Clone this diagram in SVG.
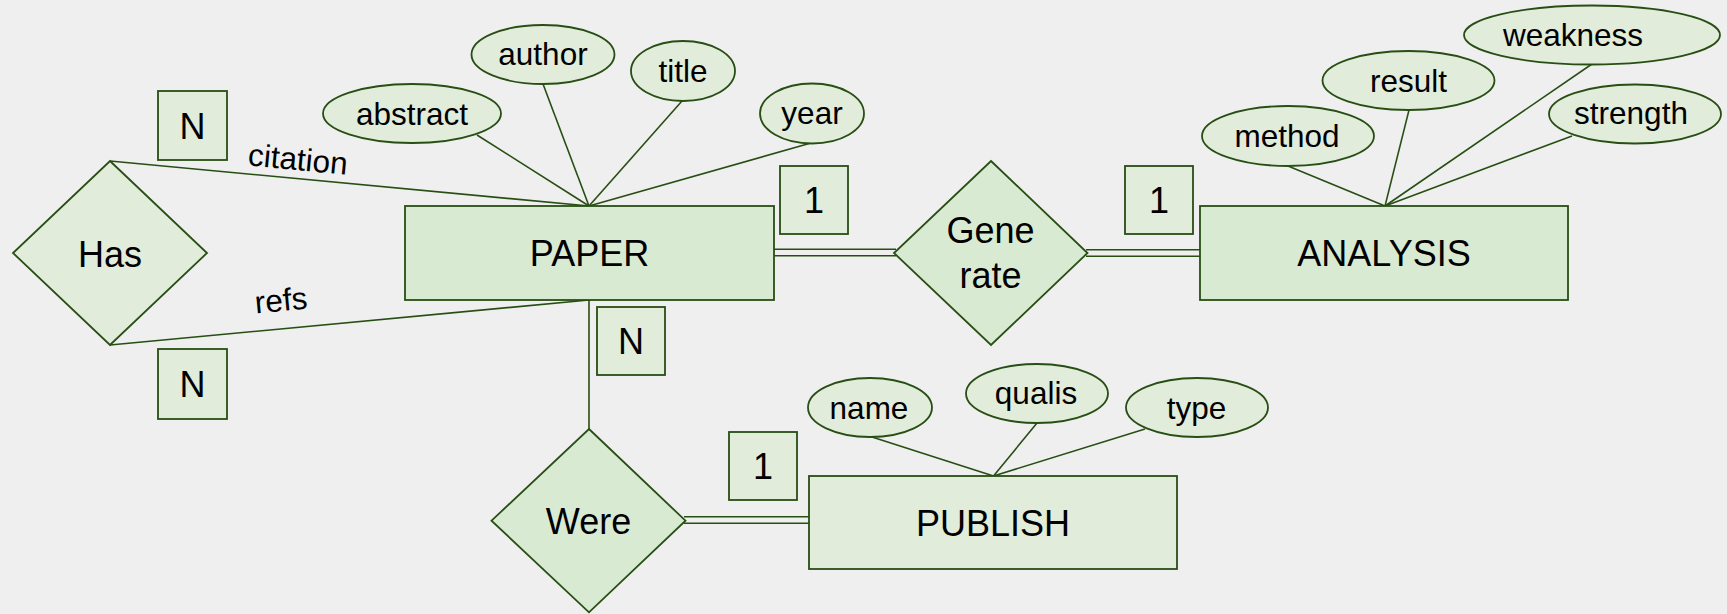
<svg xmlns="http://www.w3.org/2000/svg" width="1727" height="614" viewBox="0 0 1727 614">
  <style>
    .ent { fill: #d9ead3; stroke: #274e13; stroke-width: 1.8; }
    .ent-l { fill: #e1ecdb; stroke: #274e13; stroke-width: 1.8; }
    .rel { fill: #d9ead3; stroke: #274e13; stroke-width: 1.8; }
    .rel-l { fill: #e1ecdb; stroke: #274e13; stroke-width: 1.8; }
    .attr { fill: #e1ecdb; stroke: #274e13; stroke-width: 1.8; }
    .card { fill: #e1ecdb; stroke: #274e13; stroke-width: 1.8; }
    .link { fill: none; stroke: #274e13; stroke-width: 1.6; }
    .big { font-family: "Liberation Sans", Arial, sans-serif; font-size: 36px; fill: #000; text-anchor: middle; }
    .small { font-family: "Liberation Sans", Arial, sans-serif; font-size: 31.5px; fill: #000; text-anchor: middle; }
  </style>
  <rect x="0" y="0" width="1727" height="614" fill="#efefef"/>

  <!-- connectors -->
  <g id="connectors">
    <!-- Has <-> PAPER -->
    <line class="link" x1="110" y1="161" x2="589" y2="206"/>
    <line class="link" x1="110" y1="345" x2="589" y2="300"/>
    <!-- PAPER attributes -->
    <line class="link" x1="477" y1="135" x2="589" y2="206"/>
    <line class="link" x1="543" y1="84" x2="589" y2="206"/>
    <line class="link" x1="682" y1="101" x2="589" y2="206"/>
    <line class="link" x1="811" y1="143" x2="589" y2="206"/>
    <!-- PAPER = Generate = ANALYSIS -->
    <line class="link" x1="774" y1="249.3" x2="896" y2="249.3"/>
    <line class="link" x1="774" y1="255.7" x2="896" y2="255.7"/>
    <line class="link" x1="1086" y1="249.7" x2="1200" y2="249.7"/>
    <line class="link" x1="1086" y1="256.3" x2="1200" y2="256.3"/>
    <!-- ANALYSIS attributes -->
    <line class="link" x1="1288" y1="166" x2="1385" y2="206"/>
    <line class="link" x1="1409" y1="110" x2="1385" y2="206"/>
    <line class="link" x1="1592" y1="64" x2="1385" y2="206"/>
    <line class="link" x1="1572" y1="136" x2="1385" y2="206"/>
    <!-- PAPER - Were = PUBLISH -->
    <line class="link" x1="589" y1="300" x2="589" y2="429"/>
    <line class="link" x1="684" y1="516.7" x2="809" y2="516.7"/>
    <line class="link" x1="684" y1="523.3" x2="809" y2="523.3"/>
    <!-- PUBLISH attributes -->
    <line class="link" x1="872" y1="437" x2="993.5" y2="476"/>
    <line class="link" x1="1037" y1="423" x2="993.5" y2="476"/>
    <line class="link" x1="1145" y1="429" x2="993.5" y2="476"/>
    <!-- role labels -->
    <text class="small" x="297" y="170" transform="rotate(5.4 297 170)">citation</text>
    <text class="small" x="282" y="311" transform="rotate(-5.4 282 311)">refs</text>
  </g>

  <!-- entities -->
  <g id="paper">
    <rect class="ent" x="405" y="206" width="369" height="94"/>
    <text class="big" x="589.5" y="266">PAPER</text>
  </g>
  <g id="analysis">
    <rect class="ent" x="1200" y="206" width="368" height="94"/>
    <text class="big" x="1384" y="266">ANALYSIS</text>
  </g>
  <g id="publish">
    <rect class="ent-l" x="809" y="476" width="368" height="93"/>
    <text class="big" x="993" y="535.5">PUBLISH</text>
  </g>

  <!-- relationships -->
  <g id="has">
    <polygon class="rel-l" points="110,161 207,253 110,345 13,253"/>
    <text class="big" x="110" y="266.5">Has</text>
  </g>
  <g id="generate">
    <polygon class="rel" points="991,161 1087.5,253 991,345 894,253"/>
    <text class="big" x="990.5" y="242.5">Gene</text>
    <text class="big" x="990.5" y="287.5">rate</text>
  </g>
  <g id="were">
    <polygon class="rel" points="589,429 685.5,520.7 589,612.3 491.5,520.7"/>
    <text class="big" x="588.5" y="534">Were</text>
  </g>

  <!-- PAPER attributes -->
  <g id="attr-abstract">
    <ellipse class="attr" cx="412" cy="113.5" rx="89" ry="29.5"/>
    <text class="small" x="412" y="125">abstract</text>
  </g>
  <g id="attr-author">
    <ellipse class="attr" cx="543" cy="54.5" rx="71.5" ry="29.5"/>
    <text class="small" x="543" y="65">author</text>
  </g>
  <g id="attr-title">
    <ellipse class="attr" cx="683" cy="71" rx="52" ry="30"/>
    <text class="small" x="683" y="81.7">title</text>
  </g>
  <g id="attr-year">
    <ellipse class="attr" cx="812" cy="113.5" rx="52" ry="30"/>
    <text class="small" x="812" y="124">year</text>
  </g>

  <!-- ANALYSIS attributes -->
  <g id="attr-method">
    <ellipse class="attr" cx="1288" cy="136" rx="86" ry="30"/>
    <text class="small" x="1287" y="146.7">method</text>
  </g>
  <g id="attr-result">
    <ellipse class="attr" cx="1408.5" cy="80.5" rx="86" ry="29.5"/>
    <text class="small" x="1408.5" y="91.7">result</text>
  </g>
  <g id="attr-weakness">
    <ellipse class="attr" cx="1592" cy="35" rx="128" ry="29.5"/>
    <text class="small" x="1573" y="46">weakness</text>
  </g>
  <g id="attr-strength">
    <ellipse class="attr" cx="1635" cy="114" rx="86" ry="29.5"/>
    <text class="small" x="1631" y="124.3">strength</text>
  </g>

  <!-- PUBLISH attributes -->
  <g id="attr-name">
    <ellipse class="attr" cx="870" cy="407.5" rx="62" ry="29.5"/>
    <text class="small" x="869" y="419.3">name</text>
  </g>
  <g id="attr-qualis">
    <ellipse class="attr" cx="1037" cy="393.5" rx="71" ry="29.5"/>
    <text class="small" x="1036" y="404.3">qualis</text>
  </g>
  <g id="attr-type">
    <ellipse class="attr" cx="1197" cy="407.5" rx="71" ry="29.5"/>
    <text class="small" x="1196.5" y="419.3">type</text>
  </g>

  <!-- cardinalities -->
  <g id="card-has-top">
    <rect class="card" x="158" y="91" width="69" height="69"/>
    <text class="big" x="192.5" y="138.5">N</text>
  </g>
  <g id="card-has-bottom">
    <rect class="card" x="158" y="349" width="69" height="70"/>
    <text class="big" x="192.5" y="397">N</text>
  </g>
  <g id="card-paper-generate">
    <rect class="card" x="780" y="166" width="68" height="68"/>
    <text class="big" x="814" y="213">1</text>
  </g>
  <g id="card-analysis-generate">
    <rect class="card" x="1125" y="166" width="68" height="68"/>
    <text class="big" x="1159" y="213">1</text>
  </g>
  <g id="card-paper-were">
    <rect class="card" x="597" y="307" width="68" height="68"/>
    <text class="big" x="631" y="354">N</text>
  </g>
  <g id="card-publish-were">
    <rect class="card" x="729" y="432" width="68" height="68"/>
    <text class="big" x="763" y="479">1</text>
  </g>
</svg>
